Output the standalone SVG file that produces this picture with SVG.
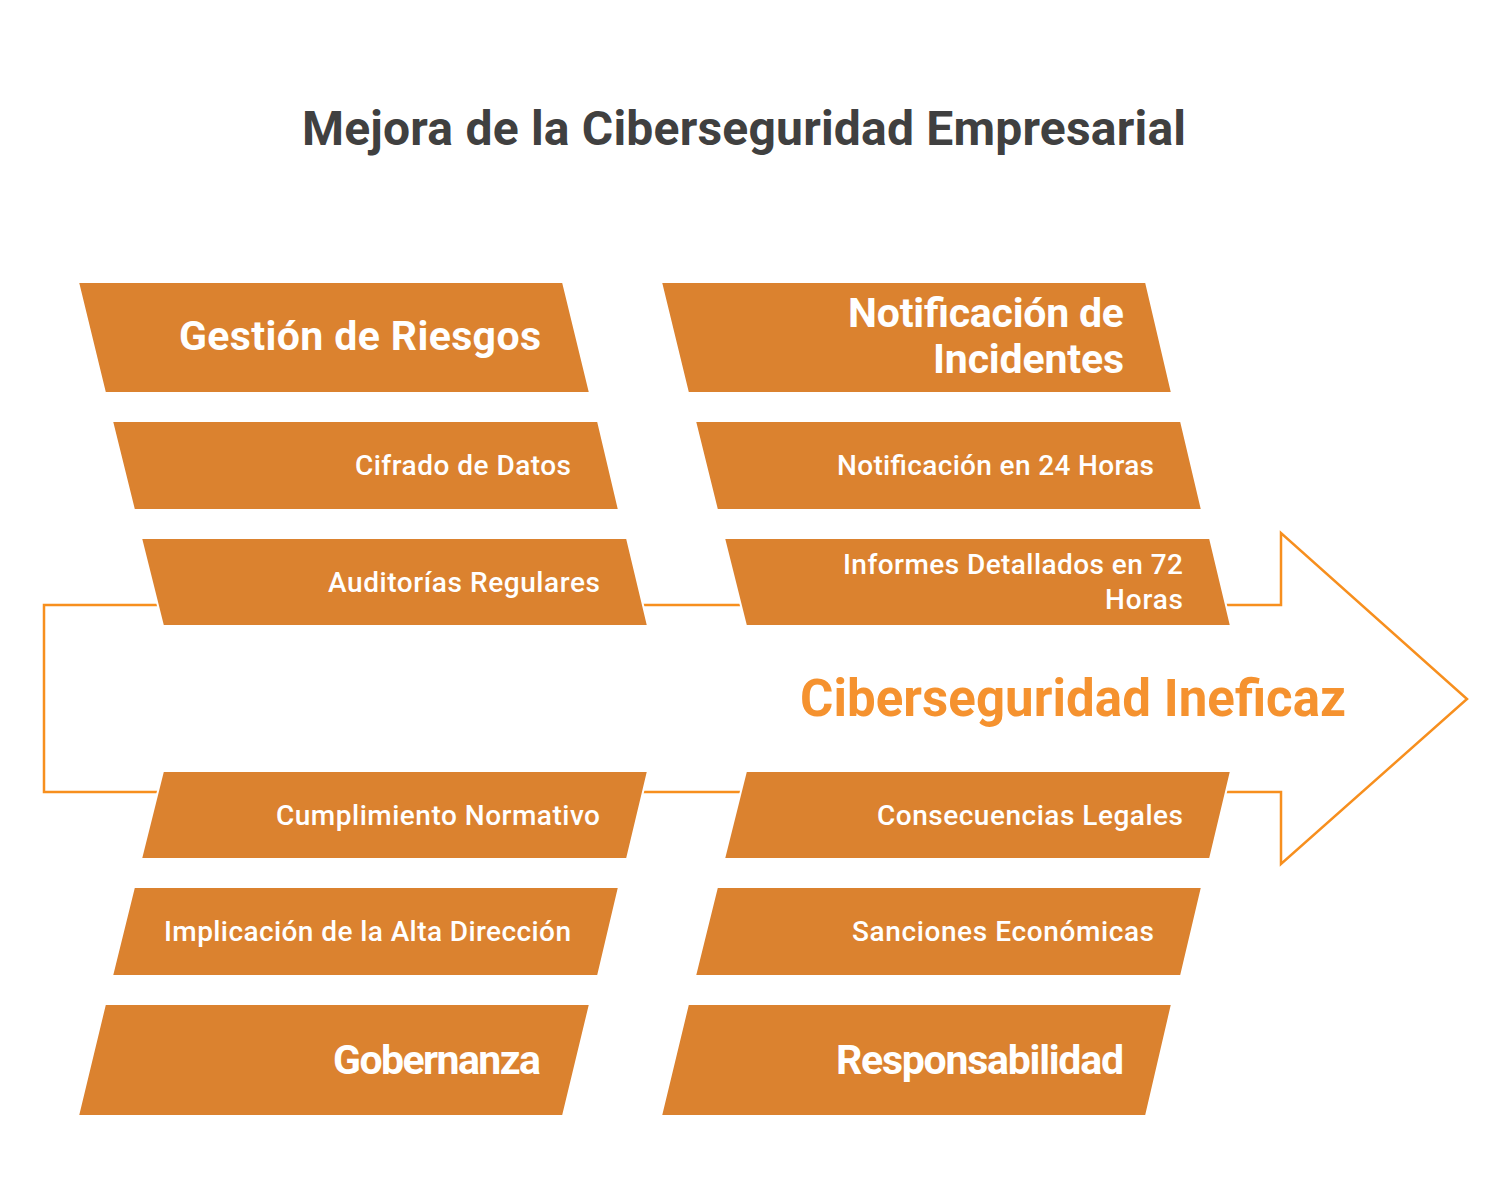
<svg xmlns="http://www.w3.org/2000/svg" width="1504" height="1200" viewBox="0 0 1504 1200">
<style>
.box{fill:#DB822F;stroke:#fff;stroke-width:2}
.big{font-family:Roboto,"Liberation Sans",sans-serif;font-weight:700;font-size:41px;fill:#fff;text-anchor:end}
.sm{font-family:Roboto,"Liberation Sans",sans-serif;font-weight:500;font-size:28px;fill:#fff;text-anchor:end}
.conn{fill:none;stroke:#F78F1E;stroke-width:2.5}
</style>
<rect width="1504" height="1200" fill="#fff"/>
<text x="744" y="145" text-anchor="middle" font-family="Roboto,'Liberation Sans',sans-serif" font-weight="700" font-size="48" fill="#404040" textLength="884">Mejora de la Ciberseguridad Empresarial</text>
<g id="connectors">
<path class="conn" d="M44,605 H1281 V533 L1467,699 L1281,864 V792 H44 Z" fill="#fff"/>
</g>
<text x="1346" y="716" text-anchor="end" font-family="Roboto,'Liberation Sans',sans-serif" font-weight="700" font-size="51" fill="#F5922F" textLength="546">Ciberseguridad Ineficaz</text>
<g id="n1"><polygon class="box" points="78,282 563,282 590,393 105,393"/><text class="big" x="541" y="350" textLength="362">Gestión de Riesgos</text></g>
<g id="n2"><polygon class="box" points="112,421 598,421 619,510 134,510"/><text class="sm" x="571" y="475" textLength="216">Cifrado de Datos</text></g>
<g id="n3"><polygon class="box" points="141,538 627,538 648,626 163,626"/><text class="sm" x="600" y="592" textLength="272">Auditorías Regulares</text></g>
<g id="n4"><polygon class="box" points="163,771 648,771 627,859 141,859"/><text class="sm" x="600" y="825" textLength="324">Cumplimiento Normativo</text></g>
<g id="n5"><polygon class="box" points="134,887 619,887 598,976 112,976"/><text class="sm" x="571" y="941" textLength="407">Implicación de la Alta Dirección</text></g>
<g id="n6"><polygon class="box" points="105,1004 590,1004 563,1116 78,1116"/><text class="big" x="541" y="1074" textLength="208">Gobernanza</text></g>
<g id="n7"><polygon class="box" points="661,282 1146,282 1172,393 688,393"/><text class="big" x="1124" y="327" textLength="276">Notificación de</text><text class="big" x="1124" y="373" textLength="191">Incidentes</text></g>
<g id="n8"><polygon class="box" points="695,421 1181,421 1202,510 717,510"/><text class="sm" x="1154" y="475" textLength="317">Notificación en 24 Horas</text></g>
<g id="n9"><polygon class="box" points="724,538 1210,538 1231,626 746,626"/><text class="sm" x="1183" y="574" textLength="340">Informes Detallados en 72</text><text class="sm" x="1183" y="609" textLength="78">Horas</text></g>
<g id="n10"><polygon class="box" points="746,771 1231,771 1210,859 724,859"/><text class="sm" x="1183" y="825" textLength="306">Consecuencias Legales</text></g>
<g id="n11"><polygon class="box" points="717,887 1202,887 1181,976 695,976"/><text class="sm" x="1154" y="941" textLength="302">Sanciones Económicas</text></g>
<g id="n12"><polygon class="box" points="688,1004 1172,1004 1146,1116 661,1116"/><text class="big" x="1124" y="1074" textLength="288">Responsabilidad</text></g>
</svg>
